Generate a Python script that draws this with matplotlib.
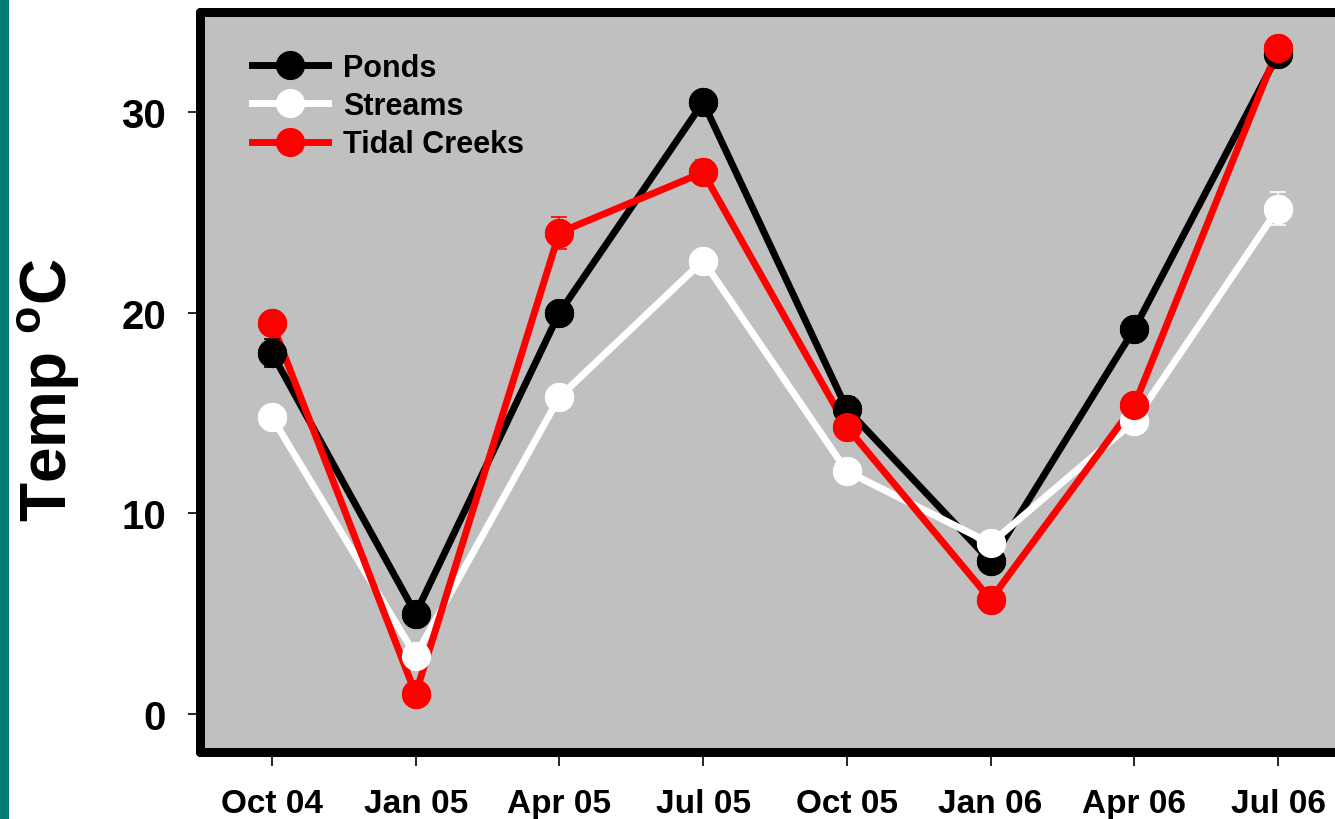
import matplotlib
matplotlib.use('Agg')
import matplotlib.pyplot as plt
from matplotlib.patches import Rectangle

plt.rcParams['font.family'] = ['Liberation Sans', 'DejaVu Sans']
plt.rcParams['font.weight'] = 'bold'
plt.rcParams['mathtext.fontset'] = 'custom'
plt.rcParams['mathtext.rm'] = 'Liberation Sans:bold'
plt.rcParams['mathtext.bf'] = 'Liberation Sans:bold'

# sampling dates
dates = ['Oct 04', 'Jan 05', 'Apr 05', 'Jul 05', 'Oct 05', 'Jan 06', 'Apr 06', 'Jul 06']

# mean temperature (deg C) and standard error per habitat
ponds = [18.0, 5.0, 20.0, 30.5, 15.2, 7.6, 19.2, 32.9]
ponds_err = [0.7, 0.3, 0.3, 0.3, 0.6, 0.3, 0.3, 0.3]
streams = [14.8, 2.9, 15.8, 22.6, 12.1, 8.5, 14.6, 25.2]
streams_err = [0.3, 0.3, 0.3, 0.5, 0.3, 0.3, 0.3, 0.8]
tidal = [19.5, 1.0, 24.0, 27.0, 14.3, 5.7, 15.4, 33.2]
tidal_err = [0.3, 0.3, 0.8, 0.6, 0.3, 0.3, 0.3, 0.3]

series = [('Ponds', ponds, ponds_err, 'black'),
          ('Streams', streams, streams_err, 'white'),
          ('Tidal Creeks', tidal, tidal_err, 'red')]

W, H = 1335, 820
fig = plt.figure(figsize=(W / 100, H / 100), dpi=100)
fig.patch.set_facecolor('white')

# teal strip on left edge
fig.patches.append(Rectangle((0, 0), 9 / W, 1, transform=fig.transFigure,
                             facecolor='#007a72', edgecolor='none'))

ax_l, ax_r, ax_t, ax_b = 200, 1350, 13, 753
ax = fig.add_axes([ax_l / W, 1 - ax_b / H, (ax_r - ax_l) / W, (ax_b - ax_t) / H])
ax.set_facecolor('#c0c0c0')

x = list(range(len(dates)))
handles = []
for i, (name, vals, errs, col) in enumerate(series):
    # lines underneath all markers
    ln, = ax.plot(x, vals, '-o', color=col, lw=5, ms=20, zorder=2 + 0.1 * i, label=name)
    handles.append(ln)
for i, (name, vals, errs, col) in enumerate(series):
    ax.errorbar(x, vals, yerr=errs, fmt='o', color=col, ms=20, mfc=col, mec=col,
                ecolor=col, elinewidth=1.2, capsize=5.5, capthick=1.2,
                zorder=3 + 0.1 * i)

ax.set_xlim(-0.5, 7.5)
ax.set_ylim(-1.9, 35)
ax.set_xticks(x)
ax.set_xticklabels(dates, fontsize=24, fontweight='bold')
ax.set_yticks([0, 10, 20, 30])
ax.set_yticklabels(['0', '10', '20', '30'], fontsize=29, fontweight='bold')
ax.tick_params(axis='x', direction='out', length=10, width=1.2, pad=16)
ax.tick_params(axis='y', direction='out', length=8.5, width=1.2, pad=16)

for side in ['left', 'bottom', 'top']:
    ax.spines[side].set_linewidth(6.5)
    ax.spines[side].set_capstyle('round')
ax.spines['right'].set_visible(False)

ax.legend(handles=handles, labels=[s[0] for s in series], loc='upper left',
          bbox_to_anchor=(0.045, 0.945), frameon=False, numpoints=1,
          handlelength=2.5, handletextpad=0.5, labelspacing=0.27,
          borderpad=0, borderaxespad=0, prop={'weight': 'bold', 'size': 22})

fig.text(48 / W, 1 - 390 / H, r'Temp $^{\mathrm{o}}$C', rotation=90,
         ha='center', va='center', fontsize=46, fontweight='bold')

fig.savefig('out.png', dpi=100)
